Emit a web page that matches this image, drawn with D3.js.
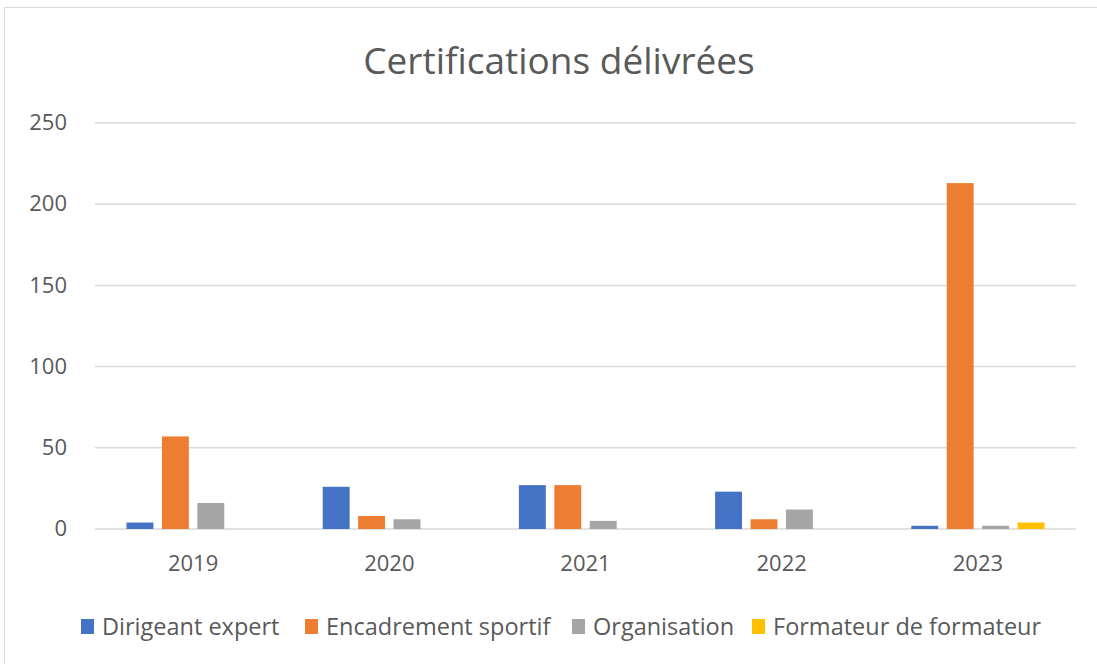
<!DOCTYPE html>
<html>
<head>
<meta charset="utf-8">
<script src="https://cdn.jsdelivr.net/npm/d3@7"></script>
<style>
  body { margin: 0; background: #fff; }
  text { font-family: "Open Sans", "Noto Sans", sans-serif; fill: #595959; }
</style>
</head>
<body>
<div id="chart"></div>
<script>
var years = ["2019", "2020", "2021", "2022", "2023"];
var series = ["Dirigeant expert", "Encadrement sportif", "Organisation", "Formateur de formateur"];
var colors = ["#4472c4", "#ed7d31", "#a5a5a5", "#ffc000"];
var dirigeant = [4, 26, 27, 23, 2];
var encadrement = [57, 8, 27, 6, 213];
var organisation = [16, 6, 5, 12, 2];
var formateur = [0, 0, 0, 0, 4];
var yTicks = [0, 50, 100, 150, 200, 250];

var width = 1097,
    height = 664;

var svg = d3.select("#chart")
    .append("svg")
    .attr("width", width)
    .attr("height", height);

// chart frame (right and bottom edges fall outside the shot)
svg.append("rect")
    .attr("x", 4.5).attr("y", 7.5)
    .attr("width", 1200).attr("height", 700)
    .attr("fill", "none")
    .attr("stroke", "#d9d9d9");

var plotLeft = 95, plotRight = 1076, plotTop = 123, plotBottom = 529;

var x0 = d3.scaleBand().domain(years).range([plotLeft, plotRight]).padding(0);
var x1 = d3.scaleBand().domain(series)
    .range([31.5, x0.bandwidth() - 31.5])
    .paddingInner(0.24).paddingOuter(0);
var y = d3.scaleLinear().domain([0, 250]).range([plotBottom, plotTop]);

svg.append("text")
    .attr("x", 559)
    .attr("y", 74)
    .attr("text-anchor", "middle")
    .style("font-size", "37px")
    .text("Certifications délivrées");

// gridlines
svg.append("g").selectAll("line")
    .data(yTicks)
    .enter().append("line")
    .attr("x1", plotLeft).attr("x2", plotRight)
    .attr("y1", function (d) { return y(d); })
    .attr("y2", function (d) { return y(d); })
    .attr("stroke", "#d9d9d9")
    .attr("stroke-width", 1.5);

var yAxis = svg.append("g")
    .attr("transform", "translate(" + (plotLeft - 28) + ",0)")
    .call(d3.axisLeft(y).tickValues(yTicks).tickSize(0).tickPadding(0));
yAxis.select(".domain").remove();
yAxis.selectAll("text")
    .style("font-size", "22px")
    .style("font-family", null)
    .attr("fill", "#595959")
    .attr("dy", "0.3em");

var xAxis = svg.append("g")
    .attr("transform", "translate(0," + plotBottom + ")")
    .call(d3.axisBottom(x0).tickSize(0).tickPadding(26));
xAxis.select(".domain").remove();
xAxis.selectAll("text")
    .style("font-size", "22px")
    .attr("fill", "#595959");

var values = [dirigeant, encadrement, organisation, formateur];
var rows = [];
years.forEach(function (yr, i) {
    series.forEach(function (s, j) {
        rows.push({ year: yr, series: s, value: values[j][i], color: colors[j] });
    });
});

svg.append("g").selectAll("rect")
    .data(rows.filter(function (d) { return d.value > 0; }))
    .enter().append("rect")
    .attr("x", function (d) { return x0(d.year) + x1(d.series); })
    .attr("width", x1.bandwidth())
    .attr("y", function (d) { return y(d.value); })
    .attr("height", function (d) { return plotBottom - y(d.value); })
    .attr("fill", function (d) { return d.color; });

// legend
var legendX = [81, 305, 572, 752];
var legend = svg.append("g").selectAll("g")
    .data(series)
    .enter().append("g")
    .attr("transform", function (d, i) { return "translate(" + legendX[i] + ",619)"; });
legend.append("rect")
    .attr("width", 13).attr("height", 15)
    .attr("fill", function (d, i) { return colors[i]; });
legend.append("text")
    .attr("x", 21).attr("y", 16)
    .style("font-size", "23.5px")
    .text(function (d) { return d; });
</script>
</body>
</html>
